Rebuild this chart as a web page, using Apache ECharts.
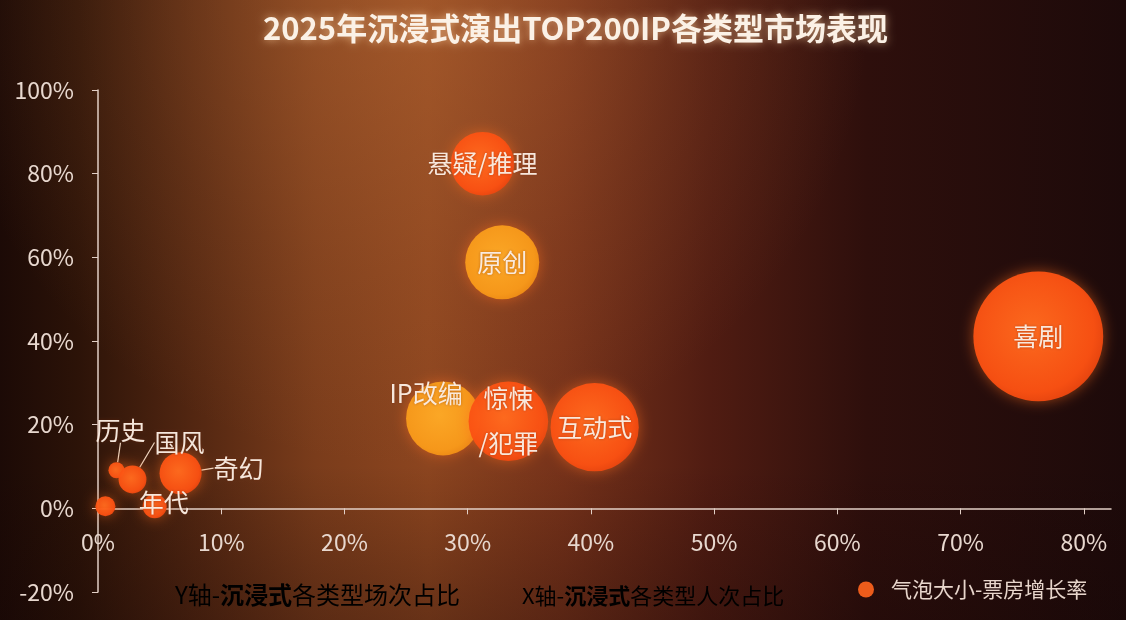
<!DOCTYPE html>
<html>
<head>
<meta charset="utf-8">
<script src="https://cdn.jsdelivr.net/npm/echarts@6/dist/echarts.min.js"></script>
<style>
  html, body { margin: 0; padding: 0; background: #1e0c08; }
  #main { width: 1126px; height: 620px; }
</style>
</head>
<body>
<div id="main"></div>
<script type="text/javascript">
    // 类型名称
    var categories = ['悬疑/推理', '原创', 'IP改编', '惊悚/犯罪', '互动式', '喜剧', '历史', '国风', '奇幻', '年代', '其他'];
    // X轴 - 沉浸式各类型人次占比 (%)
    var personShare = [31.2, 32.8, 28.0, 33.3, 40.3, 76.3, 1.5, 2.8, 6.7, 4.6, 0.6];
    // Y轴 - 沉浸式各类型场次占比 (%)
    var sessionShare = [82.4, 58.8, 21.5, 20.8, 19.4, 41.1, 9.1, 6.9, 8.4, 0.5, 0.5];
    // 气泡大小 - 票房增长率 (%)
    var boxGrowth = [28, 38, 38, 44, 54, 117, 1.8, 5.4, 12.3, 4, 2.8];
    var xTicks = [0, 10, 20, 30, 40, 50, 60, 70, 80];

    var myChart = echarts.init(document.getElementById('main'));

    var yellowNames = ['原创', 'IP改编'];
    var hiddenLabel = ['其他'];
    var lineLabel = ['历史', '国风', '奇幻'];
    // 标签偏移 (px)
    var labelMove = {
        '历史': [4, -40],
        '国风': [47, -37],
        '奇幻': [58, -5],
        '年代': [9, -4],
        'IP改编': [-17, -25],
        '惊悚/犯罪': [0, 0]
    };

    var redFill = new echarts.graphic.RadialGradient(0.45, 0.45, 0.6, [
        {offset: 0, color: '#ff6a1e'},
        {offset: 0.8, color: '#fa5012'},
        {offset: 1, color: '#e8430e'}
    ]);
    var yellowFill = new echarts.graphic.RadialGradient(0.45, 0.45, 0.6, [
        {offset: 0, color: '#fdaa26'},
        {offset: 0.8, color: '#f89a1a'},
        {offset: 1, color: '#ee8a14'}
    ]);

    var data = [];
    for (let i = 0; i < categories.length; i++) {
        let name = categories[i];
        let item = {
            name: name,
            value: [personShare[i], sessionShare[i], boxGrowth[i]],
            itemStyle: {
                color: yellowNames.indexOf(name) >= 0 ? yellowFill : redFill
            }
        };
        if (hiddenLabel.indexOf(name) >= 0) {
            item.label = {show: false};
        }
        if (name === '惊悚/犯罪') {
            item.label = {formatter: '惊悚\n/犯罪', lineHeight: 45};
        }
        if (lineLabel.indexOf(name) >= 0) {
            item.labelLine = {show: true};
        }
        data.push(item);
    }

    var titleRich = function (size) {
        return {
            n: {fontSize: size, color: '#f1e2d2', fontFamily: 'Noto Sans CJK SC'},
            b: {fontSize: size, fontWeight: 'bold', color: '#f8ebde', fontFamily: 'Noto Sans CJK SC'}
        };
    };

    var option = {
        backgroundColor: new echarts.graphic.LinearGradient(0, 0, 1, 0, [
            {offset: 0, color: '#1c0a06'},
            {offset: 0.07, color: '#2c1308'},
            {offset: 0.17, color: '#522611'},
            {offset: 0.28, color: '#7a3c1b'},
            {offset: 0.38, color: '#8c451f'},
            {offset: 0.5, color: '#76321a'},
            {offset: 0.63, color: '#501c12'},
            {offset: 0.77, color: '#2e0f0c'},
            {offset: 1, color: '#1d0a0a'}
        ]),
        textStyle: {
            fontFamily: 'Noto Sans CJK SC'
        },
        graphic: [
            {
                type: 'rect',
                z: -10,
                silent: true,
                shape: {x: 0, y: 0, width: 1126, height: 620},
                style: {
                    fill: new echarts.graphic.RadialGradient(0.36, 0.0, 0.75, [
                        {offset: 0, color: 'rgba(190,110,55,0.45)'},
                        {offset: 0.6, color: 'rgba(190,110,55,0.15)'},
                        {offset: 1, color: 'rgba(190,110,55,0)'}
                    ])
                }
            },
            {
                type: 'rect',
                z: -9,
                silent: true,
                shape: {x: 0, y: 0, width: 1126, height: 620},
                style: {
                    fill: new echarts.graphic.LinearGradient(0, 0, 0, 1, [
                        {offset: 0, color: 'rgba(20,5,5,0)'},
                        {offset: 0.75, color: 'rgba(20,5,5,0)'},
                        {offset: 1, color: 'rgba(20,5,5,0.3)'}
                    ])
                }
            },
            {
                type: 'text',
                left: 175,
                top: 583,
                style: {
                    text: '{n|Y轴-}{b|沉浸式}{n|各类型场次占比}',
                    rich: titleRich(24)
                }
            },
            {
                type: 'text',
                left: 522,
                top: 585,
                style: {
                    text: '{n|X轴-}{b|沉浸式}{n|各类型人次占比}',
                    rich: titleRich(22)
                }
            }
        ],
        title: {
            text: '2025年沉浸式演出TOP200IP各类型市场表现',
            left: 258,
            top: 8,
            textStyle: {
                color: '#fbf1e6',
                fontSize: 31,
                fontWeight: 'bold',
                fontFamily: 'Noto Sans CJK SC',
                textShadowColor: 'rgba(255,210,160,0.7)',
                textShadowBlur: 8
            }
        },
        legend: {
            left: 853,
            top: 574,
            icon: 'circle',
            itemWidth: 16,
            itemHeight: 16,
            itemGap: 0,
            data: ['气泡大小-票房增长率'],
            textStyle: {
                color: '#e8d6cc',
                fontSize: 21,
                padding: [0, 0, 0, 12]
            }
        },
        grid: {
            left: 98,
            right: 15,
            top: 90,
            bottom: 28,
            outerBoundsMode: 'none',
            containLabel: false
        },
        xAxis: {
            type: 'value',
            min: 0,
            max: 82.2,
            interval: 10,
            splitLine: {show: false},
            axisLine: {onZero: true, lineStyle: {color: '#e2cfc6', width: 1.5}},
            axisTick: {show: true, length: 6, customValues: xTicks, lineStyle: {color: '#e2cfc6'}},
            axisLabel: {
                customValues: xTicks,
                margin: -61,
                color: '#e8d8cf',
                fontSize: 23,
                formatter: function (val) {
                    return val + '%';
                }
            }
        },
        yAxis: {
            type: 'value',
            min: -20,
            max: 100,
            interval: 20,
            splitLine: {show: false},
            axisLine: {show: true, lineStyle: {color: '#e2cfc6', width: 1.5}},
            axisTick: {show: true, length: 6, lineStyle: {color: '#e2cfc6'}},
            axisLabel: {
                margin: 24,
                color: '#e8d8cf',
                fontSize: 23,
                formatter: function (val) {
                    return val + '%';
                }
            }
        },
        series: [{
            name: '气泡大小-票房增长率',
            type: 'scatter',
            data: data,
            symbolSize: function (val) {
                return 12 * Math.sqrt(val[2]);
            },
            itemStyle: {
                color: '#f5601c',
                opacity: 0.96,
                shadowBlur: 14,
                shadowColor: 'rgba(255,110,30,0.55)'
            },
            label: {
                show: true,
                position: 'inside',
                formatter: '{b}',
                color: '#fbeee4',
                fontSize: 25,
                fontFamily: 'Noto Sans CJK SC',
                textShadowColor: 'rgba(120,40,10,0.5)',
                textShadowBlur: 3
            },
            labelLine: {
                show: false,
                lineStyle: {color: '#f0d6c0', width: 1.2}
            },
            labelLayout: function (params) {
                var mv = labelMove[categories[params.dataIndex]];
                if (!mv) return {};
                return {dx: mv[0], dy: mv[1]};
            }
        }]
    };
    myChart.setOption(option, true);
</script>
</body>
</html>
